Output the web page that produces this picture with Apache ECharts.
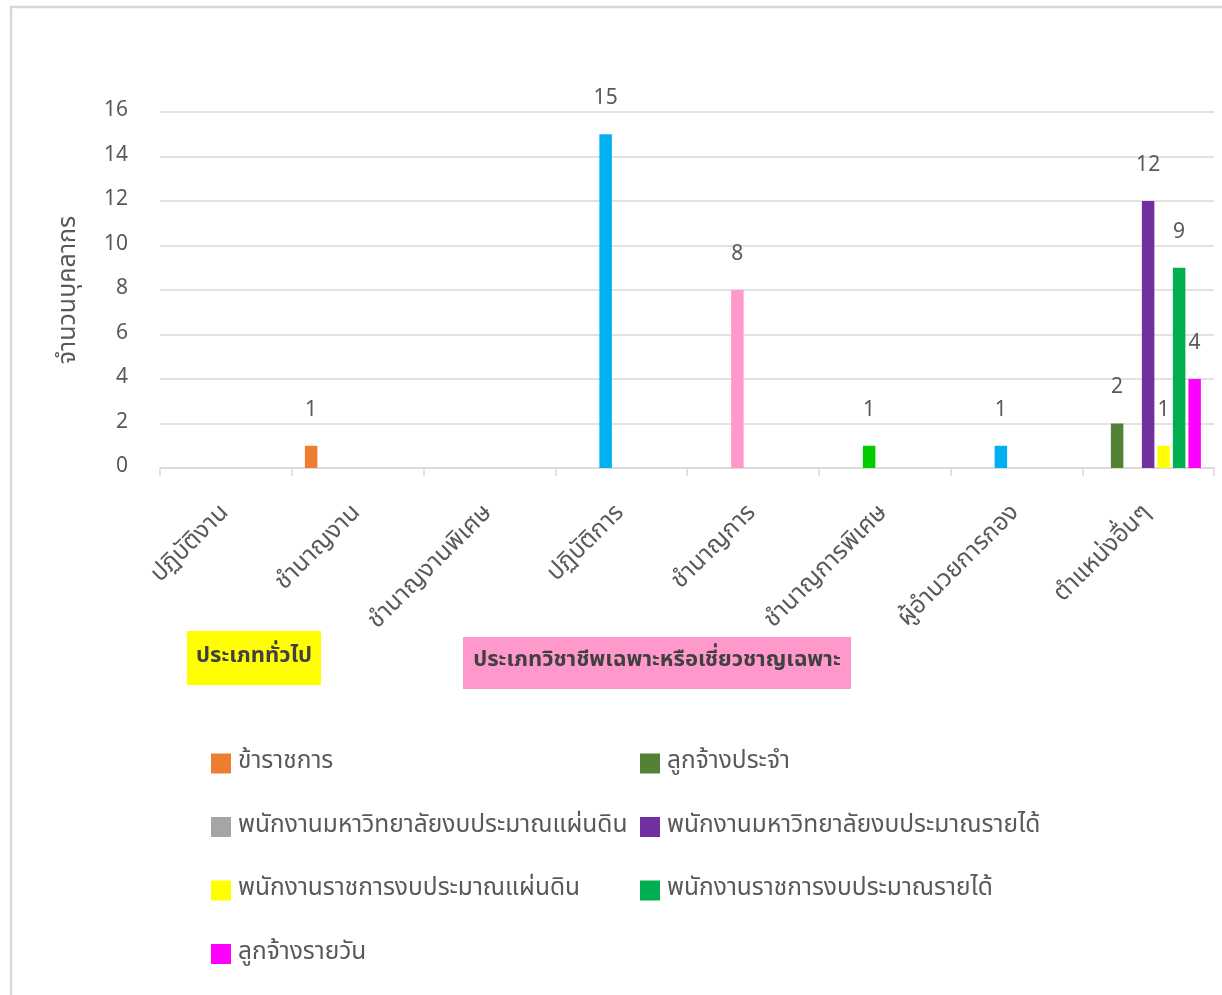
<!DOCTYPE html>
<html>
<head>
<meta charset="utf-8">
<script src="https://cdn.jsdelivr.net/npm/echarts@6/dist/echarts.min.js"></script>
<style>
html,body{margin:0;padding:0;background:#fff;}
#c{width:1222px;height:995px;}
</style>
</head>
<body>
<div id="c"></div>
<script>
const categories = ['ปฏิบัติงาน','ชำนาญงาน','ชำนาญงานพิเศษ','ปฏิบัติการ','ชำนาญการ','ชำนาญการพิเศษ','ผู้อำนวยการกอง','ตำแหน่งอื่นๆ'];
const seriesNames = ['ข้าราชการ','ลูกจ้างประจำ','พนักงานมหาวิทยาลัยงบประมาณแผ่นดิน','พนักงานมหาวิทยาลัยงบประมาณรายได้','พนักงานราชการงบประมาณแผ่นดิน','พนักงานราชการงบประมาณรายได้','ลูกจ้างรายวัน'];
const khaRatchakan      = [null, 1, null, null, null, null, null, null];
const lukChangPrachum   = [null, null, null, null, null, null, null, 2];
const uniStaffState     = [null, null, null, 15, 8, 1, 1, null];
const uniStaffIncome    = [null, null, null, null, null, null, null, 12];
const govStaffState     = [null, null, null, null, null, null, null, 1];
const govStaffIncome    = [null, null, null, null, null, null, null, 9];
const lukChangDaily     = [null, null, null, null, null, null, null, 4];
const yTicks = [0, 2, 4, 6, 8, 10, 12, 14, 16];
const boxLabels = ['ประเภททั่วไป', 'ประเภทวิชาชีพเฉพาะหรือเชี่ยวชาญเฉพาะ'];

const seriesColors = ['#ED7D31','#548235','#A5A5A5','#7030A0','#FFFF00','#00B050','#FF00FF'];
const uniStatePointColors = [null, null, null, '#00B0F0', '#FF99CC', '#00CC00', '#00B0F0', null];

const FONT = '"Noto Sans Thai", "Leelawadee UI", Tahoma, "Noto Sans", sans-serif';
const TXT = '#595959';

const allData = [khaRatchakan, lukChangPrachum, uniStaffState, uniStaffIncome, govStaffState, govStaffIncome, lukChangDaily];

const series = allData.map((d, i) => ({
  name: seriesNames[i],
  type: 'bar',
  barWidth: 12.5,
  barGap: '24%',
  data: d.map((v, j) => {
    if (i === 2 && uniStatePointColors[j]) {
      return { value: v, itemStyle: { color: uniStatePointColors[j] } };
    }
    return v;
  }),
  itemStyle: { color: seriesColors[i] },
  label: {
    show: true,
    position: 'top',
    distance: 24,
    color: TXT,
    fontSize: 21,
    fontFamily: FONT
  }
}));

const chart = echarts.init(document.getElementById('c'));
chart.setOption({
  backgroundColor: '#fff',
  animation: false,
  grid: { left: 160, right: 8, top: 112, bottom: 527, containLabel: false },
  xAxis: {
    type: 'category',
    data: categories,
    axisLine: { lineStyle: { color: '#D9D9D9', width: 1.5 } },
    axisTick: { show: true, length: 8, lineStyle: { color: '#D9D9D9', width: 1.5 } },
    axisLabel: { rotate: 45, margin: 42, color: TXT, fontSize: 24.5, fontFamily: FONT, interval: 0 }
  },
  yAxis: {
    type: 'value',
    min: yTicks[0],
    max: yTicks[yTicks.length - 1],
    interval: yTicks[1] - yTicks[0],
    name: 'จำนวนบุคลากร',
    nameLocation: 'middle',
    nameGap: 78,
    nameTextStyle: { color: TXT, fontSize: 25, fontFamily: FONT },
    axisLine: { show: false },
    axisTick: { show: false },
    axisLabel: { margin: 32, color: TXT, fontSize: 21, fontFamily: FONT },
    splitLine: { lineStyle: { color: '#D9D9D9', width: 1.5 } }
  },
  legend: [
    {
      orient: 'vertical',
      left: 211, top: 751,
      padding: 0,
      itemWidth: 20, itemHeight: 20, itemGap: 38.5,
      icon: 'rect',
      textStyle: { color: TXT, fontSize: 24.5, fontFamily: FONT, padding: [0, 0, 0, 2] },
      data: [seriesNames[0], seriesNames[2], seriesNames[4], seriesNames[6]]
    },
    {
      orient: 'vertical',
      left: 640, top: 751,
      padding: 0,
      itemWidth: 20, itemHeight: 20, itemGap: 38.5,
      icon: 'rect',
      textStyle: { color: TXT, fontSize: 24.5, fontFamily: FONT, padding: [0, 0, 0, 2] },
      data: [seriesNames[1], seriesNames[3], seriesNames[5]]
    }
  ],
  graphic: [
    { type: 'line', shape: { x1: 11, y1: 7, x2: 11, y2: 995 }, style: { stroke: '#D9D9D9', lineWidth: 2.5 } },
    { type: 'line', shape: { x1: 10, y1: 7, x2: 1222, y2: 7 }, style: { stroke: '#D9D9D9', lineWidth: 2.5 } },
    { type: 'rect', shape: { x: 187, y: 631, width: 134, height: 54 }, style: { fill: '#FFFF00' } },
    { type: 'text', x: 254, y: 658, style: { text: boxLabels[0], fill: '#404040', font: 'bold 22px ' + FONT, align: 'center', verticalAlign: 'middle' } },
    { type: 'rect', shape: { x: 463, y: 637, width: 388, height: 52 }, style: { fill: '#FF99CC' } },
    { type: 'text', x: 657, y: 662, style: { text: boxLabels[1], fill: '#404040', font: 'bold 22px ' + FONT, align: 'center', verticalAlign: 'middle' } }
  ],
  series: series
});
</script>
</body>
</html>
